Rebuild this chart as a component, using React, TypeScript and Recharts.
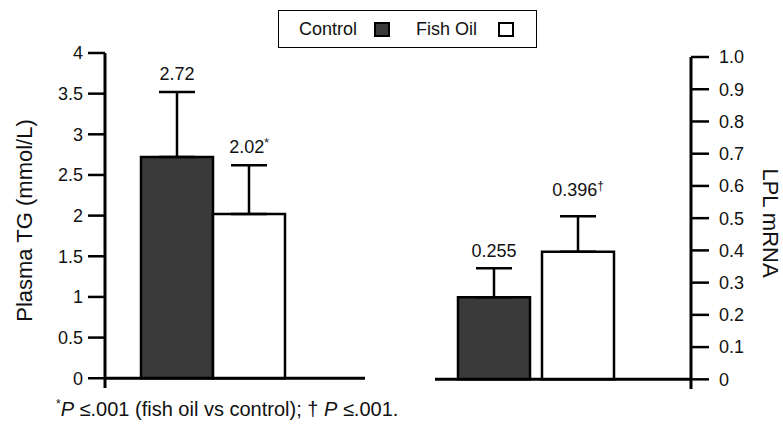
import { Bar, ComposedChart, ErrorBar, LabelList, Legend, ReferenceLine, XAxis, YAxis } from "recharts";

const FONT = "'Liberation Sans', Arial, Helvetica, sans-serif";

const seriesNames = ["Control", "Fish Oil"];
const seriesFills = ["#3a3a3a", "#ffffff"];

// plasma TG (left panel)
const tgGroup = "Plasma TG";
const tgValues = [2.72, 2.02];
const tgErrors = [0.8, 0.6];
const tgLabels = ["2.72", "2.02|*"];
const tgTicks = [0, 0.5, 1, 1.5, 2, 2.5, 3, 3.5, 4];

// LPL mRNA (right panel)
const lplGroup = "LPL mRNA";
const lplValues = [0.255, 0.396];
const lplErrors = [0.09, 0.11];
const lplLabels = ["0.255", "0.396|†"];
const lplTicks = [0, 0.1, 0.2, 0.3, 0.4, 0.5, 0.6, 0.7, 0.8, 0.9, 1.0];

const makeRow = (group: string, values: number[], errors: number[], labels: string[]) => ({
  group,
  control: values[0],
  fish: values[1],
  controlErr: [0, errors[0]],
  fishErr: [0, errors[1]],
  controlCap: errors[0],
  fishCap: errors[1],
  controlLabel: labels[0],
  fishLabel: labels[1],
});

const tgData = [makeRow(tgGroup, tgValues, tgErrors, tgLabels)];
const lplData = [makeRow(lplGroup, lplValues, lplErrors, lplLabels)];

const topLabel = (gap: number) => (props: any) => {
  const { viewBox, value } = props;
  if (!viewBox) return null;
  const [main, sup] = String(value).split("|");
  const cx = viewBox.x + viewBox.width / 2;
  return (
    <text x={cx} y={viewBox.y - gap} textAnchor="middle" fontFamily={FONT} fontSize={18} fill="#111">
      <tspan>{main}</tspan>
      {sup && (
        <tspan dy={-6} fontSize={12}>
          {sup}
        </tspan>
      )}
    </text>
  );
};

const renderLegend = (props: any) => {
  const items = (props.payload || []).filter((p: any) => p.type !== "none");
  return (
    <div
      style={{
        boxSizing: "border-box",
        width: 259,
        height: 38,
        border: "1.5px solid #000",
        display: "flex",
        alignItems: "center",
        paddingLeft: 20,
        fontFamily: FONT,
        fontSize: 18,
        color: "#111",
        background: "#fff",
      }}
    >
      {items.map((p: any, i: number) => (
        <span key={p.value} style={{ display: "flex", alignItems: "center", marginRight: i === 0 ? 26 : 0 }}>
          <span>{p.value}</span>
          <span
            style={{
              display: "inline-block",
              boxSizing: "border-box",
              width: 16,
              height: 15,
              border: "2px solid #000",
              background: p.color,
              marginLeft: i === 0 ? 17 : 21,
            }}
          />
        </span>
      ))}
    </div>
  );
};

const axisLabel = (text: string, dx: number, angle: number) => (props: any) => {
  const vb = props.viewBox;
  const x = vb.x + dx;
  const y = vb.y + vb.height / 2;
  return (
    <text
      x={x}
      y={y}
      transform={`rotate(${angle} ${x} ${y})`}
      textAnchor="middle"
      dominantBaseline="central"
      fontFamily={FONT}
      fontSize={22}
      fill="#111"
    >
      {text}
    </text>
  );
};

const tickStyle = { fill: "#111", fontSize: 18, fontFamily: FONT };

export default function App() {
  return (
    <div style={{ position: "absolute", left: 0, top: 0, width: 783, height: 433, background: "#fff" }}>
      <div style={{ position: "absolute", left: 0, top: 0 }}>
        <ComposedChart
          width={400}
          height={433}
          data={tgData}
          margin={{ top: 53, right: 35, bottom: 45, left: 0 }}
          barSize={72}
          barGap={0}
        >
          <XAxis dataKey="group" hide padding={{ left: 0, right: 45 }} />
          <YAxis
            domain={[-0.12, 4]}
            allowDataOverflow
            ticks={tgTicks}
            interval={0}
            width={105}
            tickSize={17}
            tickMargin={5}
            tick={tickStyle}
            axisLine={{ stroke: "#000", strokeWidth: 3 }}
            tickLine={{ stroke: "#000", strokeWidth: 2.5 }}
            label={{ content: axisLabel("Plasma TG (mmol/L)", 24, -90) }}
          />
          <Legend
            layout="horizontal"
            verticalAlign="middle"
            align="center"
            content={renderLegend}
            wrapperStyle={{ left: 278, top: 10, width: 259, height: 38 }}
          />
          <ReferenceLine y={0} stroke="#000" strokeWidth={3} />
          <Bar dataKey="control" name={seriesNames[0]} stackId="c" fill={seriesFills[0]} stroke="#000" strokeWidth={2.5} isAnimationActive={false}>
            <ErrorBar dataKey="controlErr" width={18} stroke="#000" strokeWidth={2.5} />
          </Bar>
          <Bar dataKey="controlCap" stackId="c" fill="none" stroke="none" legendType="none" isAnimationActive={false}>
            <LabelList dataKey="controlLabel" content={topLabel(12)} />
          </Bar>
          <Bar dataKey="fish" name={seriesNames[1]} stackId="f" fill={seriesFills[1]} stroke="#000" strokeWidth={2.5} isAnimationActive={false}>
            <ErrorBar dataKey="fishErr" width={18} stroke="#000" strokeWidth={2.5} />
          </Bar>
          <Bar dataKey="fishCap" stackId="f" fill="none" stroke="none" legendType="none" isAnimationActive={false}>
            <LabelList dataKey="fishLabel" content={topLabel(12)} />
          </Bar>
        </ComposedChart>
      </div>

      <div style={{ position: "absolute", left: 400, top: 0 }}>
        <ComposedChart
          width={383}
          height={433}
          data={lplData}
          margin={{ top: 57, right: 0, bottom: 44, left: 35 }}
          barSize={72}
          barGap={12}
        >
          <XAxis dataKey="group" hide padding={{ left: 0, right: 54 }} />
          <YAxis
            orientation="right"
            domain={[-0.03, 1]}
            allowDataOverflow
            ticks={lplTicks}
            interval={0}
            width={92}
            tickSize={18}
            tickMargin={10}
            tick={tickStyle}
            tickFormatter={(v: number) => (v === 0 ? "0" : v.toFixed(1))}
            axisLine={{ stroke: "#000", strokeWidth: 3 }}
            tickLine={{ stroke: "#000", strokeWidth: 2.5 }}
            label={{ content: axisLabel("LPL mRNA", 79, 90) }}
          />
          <ReferenceLine y={0} stroke="#000" strokeWidth={3} />
          <Bar dataKey="control" name={seriesNames[0]} stackId="c" fill={seriesFills[0]} stroke="#000" strokeWidth={2.5} isAnimationActive={false}>
            <ErrorBar dataKey="controlErr" width={18} stroke="#000" strokeWidth={2.5} />
          </Bar>
          <Bar dataKey="controlCap" stackId="c" fill="none" stroke="none" legendType="none" isAnimationActive={false}>
            <LabelList dataKey="controlLabel" content={topLabel(11)} />
          </Bar>
          <Bar dataKey="fish" name={seriesNames[1]} stackId="f" fill={seriesFills[1]} stroke="#000" strokeWidth={2.5} isAnimationActive={false}>
            <ErrorBar dataKey="fishErr" width={18} stroke="#000" strokeWidth={2.5} />
          </Bar>
          <Bar dataKey="fishCap" stackId="f" fill="none" stroke="none" legendType="none" isAnimationActive={false}>
            <LabelList dataKey="fishLabel" content={topLabel(20)} />
          </Bar>
        </ComposedChart>
      </div>

      <div
        style={{
          position: "absolute",
          left: 56,
          top: 397,
          fontFamily: FONT,
          fontSize: 20,
          color: "#111",
          whiteSpace: "nowrap",
        }}
      >
        <sup style={{ fontSize: 12 }}>*</sup>
        <i>P</i> ≤.001 (fish oil vs control); † <i>P</i> ≤.001.
      </div>
    </div>
  );
}
